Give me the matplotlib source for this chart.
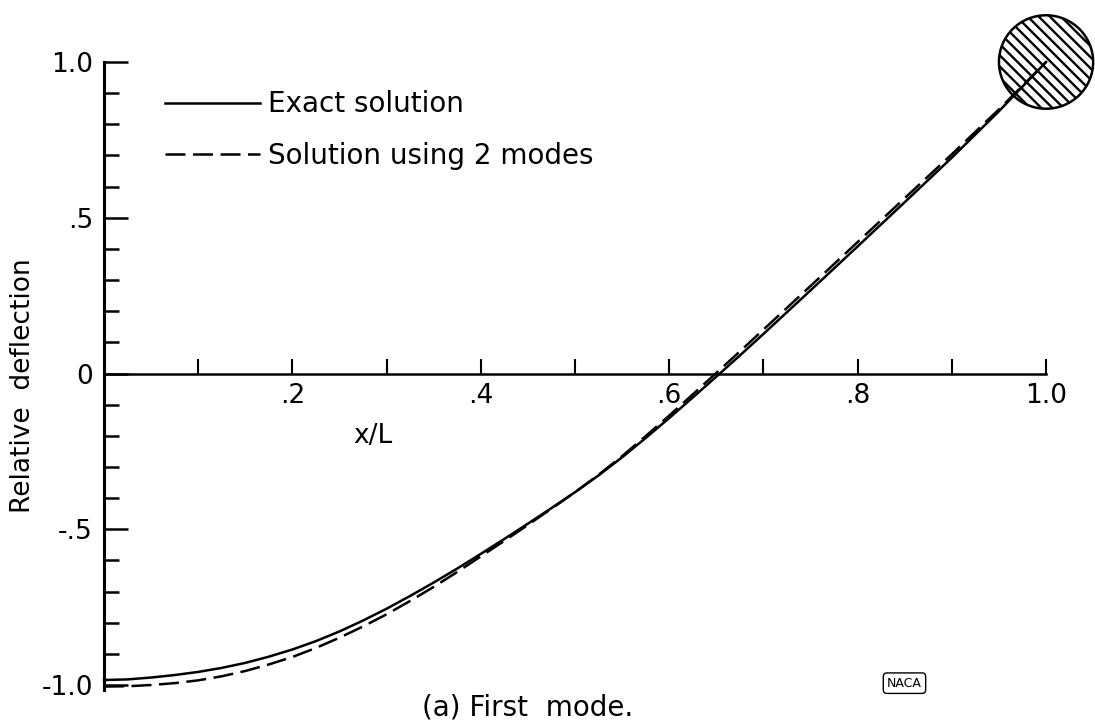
import matplotlib
matplotlib.use("Agg")
import matplotlib.pyplot as plt
import numpy as np
from matplotlib.patches import Ellipse

# --- data ---
x_pos = [0.000, 0.025, 0.050, 0.075, 0.100, 0.125, 0.150, 0.175, 0.200,
         0.225, 0.250, 0.275, 0.300, 0.325, 0.350, 0.375, 0.400, 0.425,
         0.450, 0.475, 0.500, 0.525, 0.550, 0.575, 0.600, 0.625, 0.650,
         0.675, 0.700, 0.750, 0.800, 0.850, 0.900, 0.950, 1.000]
exact = [-0.984, -0.982, -0.976, -0.968, -0.958, -0.945, -0.929, -0.909,
         -0.886, -0.859, -0.828, -0.793, -0.755, -0.714, -0.671, -0.626,
         -0.579, -0.531, -0.482, -0.432, -0.381, -0.327, -0.269, -0.207,
         -0.143, -0.077, -0.010, 0.058, 0.127, 0.267, 0.408, 0.550,
         0.693, 0.842, 1.000]
two_modes = [-1.005, -1.004, -1.000, -0.994, -0.985, -0.972, -0.955, -0.934,
             -0.910, -0.881, -0.848, -0.812, -0.773, -0.730, -0.685, -0.637,
             -0.587, -0.537, -0.486, -0.434, -0.381, -0.325, -0.265, -0.201,
             -0.135, -0.067, 0.002, 0.071, 0.141, 0.281, 0.422, 0.563,
             0.704, 0.848, 1.000]

y_major = [-1.0, -0.5, 0.0, 0.5, 1.0]
y_major_labels = ['-1.0', '-.5', '0', '.5', '1.0']
x_major = [0.2, 0.4, 0.6, 0.8, 1.0]
x_major_labels = ['.2', '.4', '.6', '.8', '1.0']

plt.rcParams['font.family'] = ['DejaVu Sans']
plt.rcParams['hatch.linewidth'] = 1.7

fig = plt.figure(figsize=(10.95, 7.26), dpi=100)
ax = fig.add_axes([0.095, 0.0496, 0.8603, 0.865])

ax.plot(x_pos, exact, color='black', lw=1.8, clip_on=False, zorder=3,
        label='Exact solution')
ax.plot(x_pos, two_modes, color='black', lw=1.8, dashes=(8, 3),
        clip_on=False, zorder=3, label='Solution using 2 modes')

# concentrated mass at the tip
ax.add_patch(Ellipse((1.0, 1.0), 0.1, 0.300, facecolor='white',
                     edgecolor='black', lw=1.8, hatch='\\\\\\',
                     clip_on=False, zorder=2))

ax.set_xlim(0, 1.0)
ax.set_ylim(-1.016, 1.0)

for s in ['top', 'right']:
    ax.spines[s].set_visible(False)
ax.spines['bottom'].set_position(('data', 0))
ax.spines['bottom'].set_linewidth(1.8)
ax.spines['left'].set_linewidth(2.2)

ax.set_xticks(x_major)
ax.set_xticklabels(x_major_labels)
ax.set_xticks(np.arange(0.1, 1.0, 0.2), minor=True)
ax.set_yticks(y_major)
ax.set_yticklabels(y_major_labels)
ax.set_yticks(np.arange(-0.9, 1.0, 0.1), minor=True)

ax.tick_params(axis='x', which='both', direction='in', length=11, width=1.5,
               labelsize=19, pad=7)
ax.tick_params(axis='y', which='major', direction='in', length=17, width=1.8,
               labelsize=19, pad=8)
ax.tick_params(axis='y', which='minor', direction='in', length=11, width=1.8)

ax.text(0.285, -0.2, 'x/L', fontsize=19, ha='center', va='center')
ax.set_ylabel('Relative  deflection', fontsize=19)
ax.yaxis.set_label_coords(-0.072, 0.485)

ax.legend(loc='upper left', bbox_to_anchor=(0.0648, 0.955), frameon=False,
          fontsize=20, handlelength=3.4, handletextpad=0.3,
          labelspacing=0.85, borderpad=0, borderaxespad=0)

fig.text(0.482, 0.025, '(a) First  mode.', fontsize=20, ha='center',
         va='center')
fig.text(0.826, 0.059, 'NACA', fontsize=9, ha='center', va='center',
         bbox=dict(boxstyle='round,pad=0.3', fc='white', ec='black', lw=1))

fig.savefig('out.png', dpi=100)
